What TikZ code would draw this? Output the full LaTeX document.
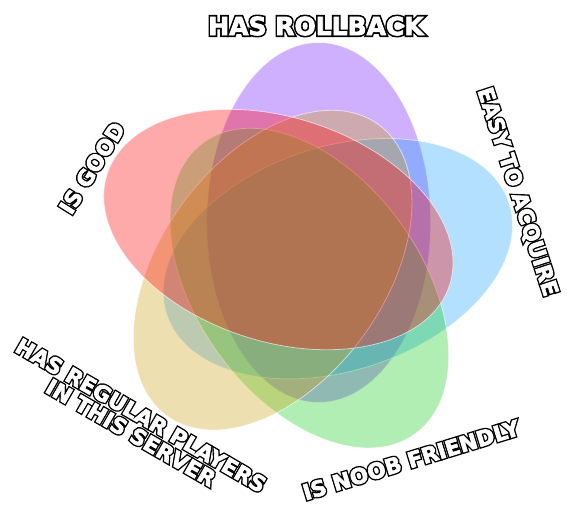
\documentclass[tikz,border=0pt]{standalone}
\usepackage{fontspec}
\setmainfont{DejaVu Sans}
\newfontfamily\lbloutfont[FakeBold=16]{DejaVu Sans Bold}
\newfontfamily\lblinfont[FakeBold=3]{DejaVu Sans Bold}
\newcommand{\otext}[1]{{\lbloutfont\color{black}\rlap{#1}}{\lblinfont\color{white}#1}}
\definecolor{vpurple}{RGB}{111,18,255}
\definecolor{vblue}{RGB}{27,162,255}
\definecolor{vgreen}{RGB}{18,204,30}
\definecolor{vyellow}{RGB}{204,159,18}
\definecolor{vred}{RGB}{255,0,0}
\tikzset{
  setshape/.style={fill=#1, fill opacity=0.333, draw=white, draw opacity=0.6, line width=0.8pt},
  lbl/.style={font=\fontsize{21.5}{20}\selectfont, inner sep=0pt, align=center}
}
\begin{document}
\begin{tikzpicture}[x=1pt,y=1pt]
\useasboundingbox (0,0) rectangle (569,512);
\foreach \c [count=\i from 0] in {vpurple,vblue,vgreen,vyellow,vred} {
  \begin{scope}[shift={(303.4,258.2)}, rotate=-72*\i]
    \path[setshape=\c] (15.3,31.3) ellipse [x radius=112, y radius=180];
  \end{scope}
}
\node[lbl, font=\fontsize{25}{24}\selectfont] (rollback) at (316,486) {\otext{HAS ROLLBACK}};
\node[lbl, rotate=-72] (easy) at (517,320) {\otext{EASY TO ACQUIRE}};
\node[lbl, rotate=58] (good) at (92,344) {\otext{IS GOOD}};
\node[lbl, rotate=-30] (regular) at (136,88) {\otext{HAS REGULAR PLAYERS}\\\otext{IN THIS SERVER}};
\node[lbl, rotate=17] (noob) at (411,52) {\otext{IS NOOB FRIENDLY}};
\end{tikzpicture}
\end{document}
